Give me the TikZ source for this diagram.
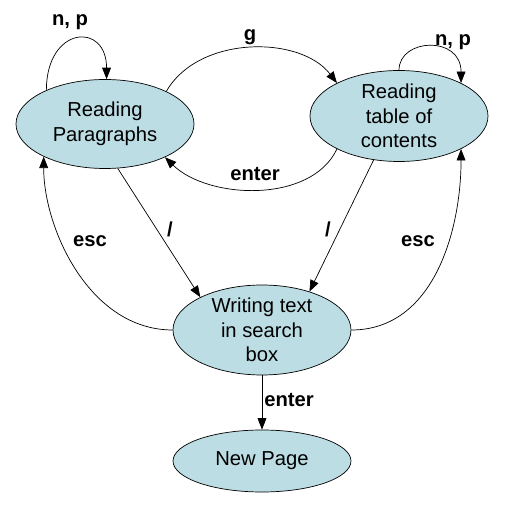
\documentclass[tikz,border=0pt]{standalone}
\usepackage{fontspec}
\setmainfont{Liberation Sans}
\usepackage{xcolor}
\usetikzlibrary{shapes.geometric,arrows.meta}
\definecolor{statefill}{RGB}{188,221,228}

\begin{document}
\begin{tikzpicture}[>={Triangle[length=6.5pt,width=5pt]}, line width=0.4pt,
    statenode/.style={ellipse, draw, fill=statefill, align=center,
      minimum width=3.56cm, inner sep=-2pt,
      font=\fontsize{11.5}{14}\selectfont},
    keylabel/.style={font=\bfseries\fontsize{11.5}{14}\selectfont, inner sep=0pt}]
    \useasboundingbox (0,0) rectangle (10.56,-10.14);

    % Estados de lectura (arriba)
    \node[statenode, minimum height=1.78cm] (RP) at (2.10,-2.48) {Reading\\Paragraphs};
    \node[statenode, minimum height=1.82cm] (RT) at (7.98,-2.32) {Reading\\table of\\contents};

    % Estado de busqueda y pagina nueva (abajo)
    \node[statenode, minimum height=1.80cm] (W) at (5.24,-6.60) {Writing text\\in search\\box};
    \node[statenode, minimum height=1.24cm] (NP) at (5.24,-9.22) {New Page};

    % Bucles n, p
    \draw[->] (RP.150) .. controls +(0,1.28) and +(0,1.16) .. (RP.88);
    \draw[->] (RT.90) .. controls +(0,0.64) and +(0,0.96) .. (RT.28);

    % Arcos entre los estados de lectura
    \draw[->] (RP.28) .. controls +(0.64,1.12) and +(-0.74,0.96) .. (RT.152);
    \draw[->] (RT.208) .. controls +(-0.52,-1.10) and +(0.86,-0.84) .. (RP.331);

    % Arcos hacia la caja de busqueda
    \draw[->] (RP.286) -- (W.152);
    \draw[->] (RT.240) -- (W.39);

    % Arcos de vuelta (esc)
    \draw[->] (W.180) .. controls +(-1.66,0) and +(0,-1.44) .. (RP.208);
    \draw[->] (W.0) .. controls +(1.66,0) and +(0,-1.60) .. (RT.332);

    % Arco hacia la pagina nueva
    \draw[->] (W) -- (NP);

    % Etiquetas de las teclas
    \node[keylabel] (lnp1) at (1.40,-0.44) {n, p};
    \node[keylabel] (lnp2) at (9.06,-0.84) {n, p};
    \node[keylabel] (lg) at (5.00,-0.74) {g};
    \node[keylabel] (lenter1) at (5.10,-3.48) {enter};
    \node[keylabel] (lslash1) at (3.40,-4.58) {/};
    \node[keylabel] (lslash2) at (6.56,-4.58) {/};
    \node[keylabel] (lesc1) at (1.80,-4.82) {esc};
    \node[keylabel] (lesc2) at (8.36,-4.82) {esc};
    \node[keylabel] (lenter2) at (5.78,-8.00) {enter};
\end{tikzpicture}
\end{document}
